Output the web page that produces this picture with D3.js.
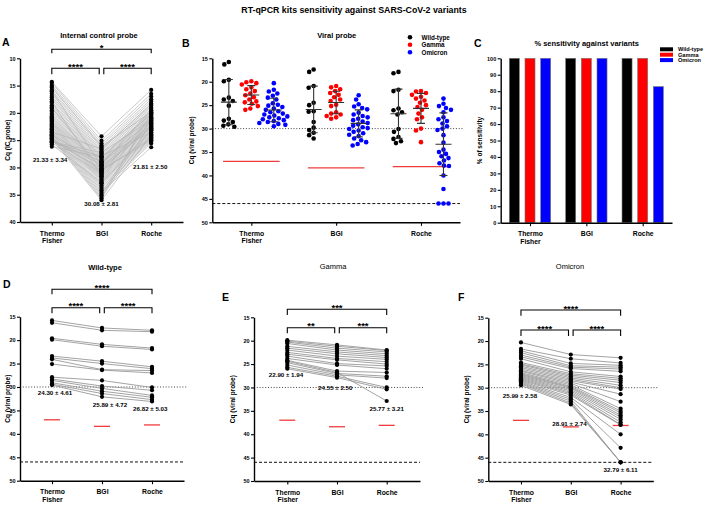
<!DOCTYPE html>
<html>
<head>
<meta charset="utf-8">
<script src="https://cdn.jsdelivr.net/npm/d3@7"></script>
<style>
    body { margin: 0; background: #fff; }
</style>
</head>
<body>
<script>
const kits = ['Thermo Fisher', 'BGI', 'Roche']
const variants = ['Wild-type', 'Gamma', 'Omicron']
const variantColours = ['#000000', '#ff0000', '#0000ff']

// internal control probe, all 60 samples (TF, BGI, Roche paired by index)
const icThermo = [14.3, 14.5, 14.9, 15.4, 15.8, 16.1, 16.5, 16.9, 17.2, 17.5,
    17.9, 18.2, 18.6, 18.9, 19.2, 19.5, 19.8, 20.1, 20.4, 20.6,
    20.8, 21.0, 21.2, 21.4, 21.6, 21.8, 22.0, 22.1, 22.3, 22.5,
    22.6, 22.8, 23.0, 23.1, 23.3, 23.4, 23.6, 23.7, 23.9, 24.0,
    24.2, 24.3, 24.5, 24.6, 24.8, 24.9, 25.1, 25.2, 25.4, 25.5,
    23.5, 24.1, 24.7, 25.3, 25.8, 26.2, 19.0, 18.0, 16.0, 15.2]
const icBGI = [24.3, 25.1, 25.6, 26.0, 26.4, 26.8, 27.1, 27.4, 27.7, 28.0,
    28.2, 28.4, 28.6, 28.8, 29.0, 29.2, 29.4, 29.6, 29.8, 30.0,
    30.1, 30.3, 30.5, 30.7, 30.9, 31.1, 31.3, 31.5, 31.7, 31.9,
    32.1, 32.3, 32.5, 32.7, 33.0, 33.3, 33.6, 33.9, 34.2, 34.5,
    34.8, 35.1, 35.4, 35.7, 36.0, 29.5, 30.2, 28.9, 27.9, 31.0,
    26.6, 29.1, 30.6, 27.3, 32.9, 28.1, 30.4, 31.6, 29.7, 26.2]
const icRoche = [15.8, 16.5, 17.0, 17.5, 17.9, 18.3, 18.7, 19.0, 19.3, 19.6,
    19.9, 20.1, 20.3, 20.5, 20.7, 20.9, 21.1, 21.3, 21.5, 21.7,
    21.9, 22.1, 22.3, 22.5, 22.7, 22.9, 23.1, 23.3, 23.5, 23.7,
    23.9, 24.1, 24.3, 24.5, 24.7, 24.9, 25.1, 25.3, 25.6, 26.3,
    21.0, 22.0, 23.0, 20.0, 24.0, 19.5, 22.6, 21.4, 23.6, 20.8,
    18.5, 22.4, 24.6, 21.2, 23.2, 20.2, 25.0, 21.6, 22.8, 19.8]
const icLabels = ['21.33 ± 3.34', '30.08 ± 2.81', '21.81 ± 2.50']
const icStars = ['****', '****', '*']   // TF-BGI, BGI-Roche, TF-Roche

// viral probe per variant
const wtThermo = [15.8, 16.3, 19.6, 19.9, 23.4, 23.8, 24.1, 25.1, 27.9, 28.3, 28.6, 29.1, 29.4, 29.6]
const wtBGI = [17.4, 17.9, 20.9, 21.3, 24.5, 25.0, 26.3, 26.4, 28.6, 29.8, 30.3, 30.9, 31.4, 32.1]
const wtRoche = [17.9, 18.2, 21.7, 22.0, 25.7, 26.1, 26.5, 27.0, 30.1, 30.7, 31.8, 32.2, 32.7, 33.1]
const wtLabels = ['24.30 ± 4.61', '25.89 ± 4.72', '26.82 ± 5.03']
const wtStars = ['****', '****', '****']

const gammaThermo = [19.9, 20.1, 20.3, 20.6, 21.2, 21.6, 22.0, 22.5, 22.9, 23.3, 23.8, 24.2, 24.4, 24.7, 25.2, 25.7, 26.0]
const gammaBGI = [20.9, 21.2, 21.6, 22.0, 22.4, 22.8, 23.3, 23.8, 24.1, 24.9, 25.2, 26.5, 26.8, 27.0, 27.3, 27.6, 27.9]
const gammaRoche = [22.0, 22.1, 22.4, 22.8, 23.2, 23.6, 24.0, 24.5, 25.0, 25.4, 26.0, 26.8, 32.9, 27.6, 28.0, 30.0, 30.4]
const gammaLabels = ['22.90 ± 1.94', '24.55 ± 2.50', '25.77 ± 3.21']
const gammaStars = ['**', '***', '***']

const omicronThermo = [20.3, 21.7, 22.1, 22.5, 23.0, 23.4, 23.8, 24.6, 24.9, 25.1, 25.4, 25.7, 26.0, 26.3, 26.5,
    26.8, 27.0, 27.2, 27.4, 27.6, 27.8, 28.0, 28.2, 28.4, 28.6, 28.8, 29.0, 29.2, 29.5]
const omicronBGI = [22.9, 23.8, 24.8, 25.3, 25.6, 25.9, 26.6, 27.0, 27.3, 27.6, 27.9, 28.2, 28.5, 28.8, 29.1,
    29.4, 29.7, 29.9, 30.1, 30.4, 30.7, 31.0, 31.3, 31.6, 32.1, 32.5, 32.9, 33.3, 33.6]
const omicronRoche = [23.6, 24.7, 25.2, 25.6, 26.0, 26.5, 27.6, 28.0, 28.4, 28.9, 29.5, 30.0, 30.3, 31.4, 33.0,
    34.5, 35.0, 35.4, 35.9, 36.3, 36.8, 37.4, 37.9, 38.0, 40.0, 42.9, 46.0, 46.0, 46.0]
const omicronLabels = ['25.99 ± 2.58', '28.91 ± 2.74', '32.79 ± 6.11']
const omicronStars = ['****', '****', '****']

const cutoffs = [37.0, 38.4, 38.1]
const positivityCq = 30
const undetectedCq = 46

const sensWild = [100, 100, 100]
const sensGamma = [100, 100, 100]
const sensOmicron = [100, 100, 82.76]

const icTicks = [10, 15, 20, 25, 30, 35, 40]
const cqTicks = [15, 20, 25, 30, 35, 40, 45, 50]
const sensTicks = [0, 10, 20, 30, 40, 50, 60, 70, 80, 90, 100]

const FONT = '"Liberation Sans", Arial, sans-serif'
const RED = '#f03c3c'

const svg = d3.select('body').append('svg')
    .attr('width', 708).attr('height', 505)
    .style('font-family', FONT)

function addText(g, x, y, str, size, weight = 'bold', anchor = 'middle'){
    return g.append('text')
        .attr('x', x).attr('y', y)
        .attr('font-size', size).attr('font-weight', weight)
        .attr('text-anchor', anchor)
        .text(str)
}

function drawAxes(g, x, y, ticks, yLabel, yLabelX){
    const yAxis = g.append('g')
        .attr('transform', `translate(${x.range()[0]},0)`)
        .call(d3.axisLeft(y).tickValues(ticks).tickSize(3).tickSizeOuter(0).tickPadding(1.5))
    const xAxis = g.append('g')
        .attr('transform', `translate(0,${y.range()[1]})`)
        .call(d3.axisBottom(x).tickSize(3.5).tickSizeOuter(0))

    ;[yAxis, xAxis].forEach(a => {
        a.attr('font-family', FONT)
        a.select('.domain').attr('stroke-width', 1.4)
        a.selectAll('.tick line').attr('stroke-width', 1.1)
    })
    yAxis.selectAll('.tick text').attr('font-size', 5.5).attr('font-weight', 'bold')

    xAxis.selectAll('.tick text').remove()
    xAxis.selectAll('.tick').each(function(d){
        const t = d3.select(this).append('text')
            .attr('fill', '#000').attr('y', 13.5)
            .attr('font-size', 6.8).attr('font-weight', 'bold')
        d.split(' ').forEach((w, i) => {
            t.append('tspan').attr('x', 0).attr('dy', i === 0 ? 0 : 7.5).text(w)
        })
    })

    const mid = (y.range()[0] + y.range()[1]) / 2
    addText(g, 0, 0, yLabel, 6.5)
        .attr('transform', `translate(${yLabelX},${mid}) rotate(-90)`)
        .attr('dy', '0.35em')
}

function drawBracket(g, x1, x2, yLine, drop, stars){
    g.append('path')
        .attr('d', `M${x1},${yLine + drop}V${yLine}H${x2}V${yLine + drop}`)
        .attr('fill', 'none').attr('stroke', '#000').attr('stroke-width', 1.1)
    addText(g, (x1 + x2) / 2, yLine + 1.5, stars, 9.5)
}

function drawRefLines(g, x, y, cutoffHalf, xPos){
    const x0 = x.range()[0], x1 = x.range()[1]
    g.append('line')
        .attr('x1', x0).attr('x2', x1 + 4)
        .attr('y1', y(positivityCq)).attr('y2', y(positivityCq))
        .attr('stroke', '#444').attr('stroke-width', 1).attr('stroke-dasharray', '1,1.8')
    g.append('line')
        .attr('x1', x0).attr('x2', x1)
        .attr('y1', y(undetectedCq)).attr('y2', y(undetectedCq))
        .attr('stroke', '#111').attr('stroke-width', 1).attr('stroke-dasharray', '3,2')
    g.selectAll(null).data(kits).join('line')
        .attr('x1', (d, i) => xPos(d) - cutoffHalf).attr('x2', (d, i) => xPos(d) + cutoffHalf)
        .attr('y1', (d, i) => y(cutoffs[i])).attr('y2', (d, i) => y(cutoffs[i]))
        .attr('stroke', RED).attr('stroke-width', 1.3)
}

function pairedPanel(cfg){
    const g = svg.append('g')
    const x = d3.scalePoint().domain(kits).range([cfg.left, cfg.right]).padding(cfg.padding)
    const y = d3.scaleLinear().domain(cfg.domain).range([cfg.top, cfg.bottom])

    if(cfg.refs) drawRefLines(g, x, y, 8, x)

    const samples = d3.range(cfg.series[0].length)
        .map(i => cfg.series.map((s, j) => [x(kits[j]), y(s[i])]))
    g.selectAll(null).data(samples).join('path')
        .attr('d', d3.line())
        .attr('fill', 'none').attr('stroke', cfg.lineColour).attr('stroke-width', cfg.lineWidth)
    cfg.series.forEach((s, j) => {
        g.selectAll(null).data(s).join('circle')
            .attr('cx', x(kits[j])).attr('cy', d => y(d)).attr('r', 2.1).attr('fill', '#000')
    })

    const bx = x(kits[1])
    const topY = cfg.top + cfg.bracketTop
    const lowY = cfg.top + cfg.bracketLow
    drawBracket(g, x(kits[0]), x(kits[2]), topY, cfg.dropTop, cfg.stars[2])
    drawBracket(g, x(kits[0]), bx - 2.3, lowY, cfg.dropLow, cfg.stars[0])
    drawBracket(g, bx + 2.3, x(kits[2]), lowY, cfg.dropLow, cfg.stars[1])

    cfg.labels.forEach((lab, j) => {
        addText(g, x(kits[j]) + cfg.labelPos[j][0], y(cfg.labelPos[j][1]), lab, 6.2)
            .attr('dy', '0.35em')
    })

    drawAxes(g, x, y, cfg.ticks, cfg.yLabel, cfg.yLabelX)
    addText(g, cfg.titleX, cfg.titleY, cfg.title, 7.5, cfg.titleWeight)
    addText(g, cfg.letterX, cfg.letterY, cfg.letter, 10.5, 'bold', 'start')
}

function beeswarm(values, y, r){
    const placed = []
    values.map(v => y(v)).sort((a, b) => a - b).forEach(py => {
        let k = 0, off = 0
        while(true){
            off = (k % 2 === 0 ? 1 : -1) * Math.ceil(k / 2) * 0.5
            const hit = placed.some(p => Math.hypot(p[0] - off, p[1] - py) < 2 * r + 0.3)
            if(!hit) break
            k++
        }
        placed.push([off, py])
    })
    return placed
}

function viralPanel(){
    const g = svg.append('g')
    const x = d3.scalePoint().domain(kits).range([212.3, 460]).padding(0.46)
    const v = d3.scalePoint().domain(variants).range([-22.5, 22.5])
    const y = d3.scaleLinear().domain([15, 50]).range([58.3, 222.3])

    drawRefLines(g, x, y, 28.3, x)

    const groups = [
        [wtThermo, gammaThermo, omicronThermo],
        [wtBGI, gammaBGI, omicronBGI],
        [wtRoche, gammaRoche, omicronRoche]
    ]
    groups.forEach((kitGroup, i) => {
        kitGroup.forEach((vals, j) => {
            const cx = x(kits[i]) + v(variants[j])
            g.selectAll(null).data(beeswarm(vals, y, 2.3)).join('circle')
                .attr('cx', d => cx + d[0]).attr('cy', d => d[1]).attr('r', 2.3)
                .attr('fill', variantColours[j])
            const m = d3.mean(vals), sd = d3.deviation(vals)
            g.append('path')
                .attr('d', `M${cx},${y(m - sd)}V${y(m + sd)}` +
                    `M${cx - 4},${y(m - sd)}H${cx + 4}M${cx - 4},${y(m + sd)}H${cx + 4}` +
                    `M${cx - 8},${y(m)}H${cx + 8}`)
                .attr('fill', 'none').attr('stroke', '#333').attr('stroke-width', 1.1)
        })
    })

    drawAxes(g, x, y, cqTicks, 'Cq (viral probe)', 192)
    addText(g, 336.7, 37.5, 'Viral probe', 7.5)
    addText(g, 182, 47, 'B', 10.5, 'bold', 'start')

    const legend = g.selectAll(null).data(variants).join('g')
        .attr('transform', (d, i) => `translate(410,${37.3 + i * 7.5})`)
    legend.append('circle').attr('r', 2.3).attr('fill', (d, i) => variantColours[i])
    legend.append('text').attr('x', 11.5).attr('dy', '0.35em')
        .attr('font-size', 6.3).attr('font-weight', 'bold').text(d => d)
}

function sensitivityPanel(){
    const g = svg.append('g')
    const x = d3.scalePoint().domain(kits).range([500.7, 672]).padding(0.52)
    const v = d3.scaleBand().domain(variants).range([-23.5, 23.5]).paddingInner(0.36).paddingOuter(0.18)
    const y = d3.scaleLinear().domain([100, 0]).range([58.3, 222.7])
    const sens = [sensWild, sensGamma, sensOmicron]

    sens.forEach((vals, j) => {
        g.selectAll(null).data(vals).join('rect')
            .attr('x', (d, i) => x(kits[i]) + v(variants[j]))
            .attr('width', v.bandwidth())
            .attr('y', d => y(d)).attr('height', d => y(0) - y(d))
            .attr('fill', variantColours[j]).attr('stroke', '#777').attr('stroke-width', 0.6)
    })

    drawAxes(g, x, y, sensTicks, '% of sensitivity', 480)
    addText(g, 586.7, 46, '% sensitivity against variants', 7.5)
    addText(g, 474, 47, 'C', 10.5, 'bold', 'start')

    const legend = g.selectAll(null).data(variants).join('g')
        .attr('transform', (d, i) => `translate(660,${49.3 + i * 5.4})`)
    legend.append('rect').attr('y', -2).attr('width', 13).attr('height', 4)
        .attr('fill', (d, i) => variantColours[i])
    legend.append('text').attr('x', 18).attr('dy', '0.35em')
        .attr('font-size', 5.6).attr('font-weight', 'bold').text(d => d)
}

addText(svg, 354, 13, 'RT-qPCR kits sensitivity against SARS-CoV-2 variants', 8.8)

pairedPanel({
    series: [icThermo, icBGI, icRoche], labels: icLabels, stars: icStars,
    left: 20, right: 183, top: 58.3, bottom: 222, padding: 0.64, domain: [10, 40], ticks: icTicks,
    yLabel: 'Cq (IC probe)', yLabelX: 8, refs: false, lineColour: '#b4b4b4', lineWidth: 0.7,
    bracketTop: -9, bracketLow: 10, dropTop: 4, dropLow: 6,
    labelPos: [[-1.7, 28.6], [0, 36.7], [-1, 29.9]],
    title: 'Internal control probe', titleX: 99, titleY: 37.5, titleWeight: 'bold',
    letter: 'A', letterX: 2, letterY: 45.5
})
viralPanel()
sensitivityPanel()
pairedPanel({
    series: [wtThermo, wtBGI, wtRoche], labels: wtLabels, stars: wtStars,
    left: 20, right: 184, top: 316.7, bottom: 480.7, padding: 0.64, domain: [15, 50], ticks: cqTicks,
    yLabel: 'Cq (viral probe)', yLabelX: 8, refs: true, lineColour: '#999', lineWidth: 0.9,
    bracketTop: -27.4, bracketLow: -9, dropTop: 5, dropLow: 5.6,
    labelPos: [[3, 31.2], [8, 33.8], [-1.7, 34.7]],
    title: 'Wild-type', titleX: 105, titleY: 269.5, titleWeight: 'bold',
    letter: 'D', letterX: 3, letterY: 288
})
pairedPanel({
    series: [gammaThermo, gammaBGI, gammaRoche], labels: gammaLabels, stars: gammaStars,
    left: 254, right: 420, top: 317.3, bottom: 481, padding: 0.67, domain: [15, 50], ticks: cqTicks,
    yLabel: 'Cq (viral probe)', yLabelX: 233, refs: true, lineColour: '#999', lineWidth: 0.9,
    bracketTop: -8, bracketLow: 10.4, dropTop: 5.7, dropLow: 5.6,
    labelPos: [[-1.3, 27.3], [-1.7, 30.0], [0, 34.5]],
    title: 'Gamma', titleX: 333, titleY: 269, titleWeight: 'normal',
    letter: 'E', letterX: 222, letterY: 300.5
})
pairedPanel({
    series: [omicronThermo, omicronBGI, omicronRoche], labels: omicronLabels, stars: omicronStars,
    left: 488.3, right: 653.3, top: 317.7, bottom: 481, padding: 0.656, domain: [15, 50], ticks: cqTicks,
    yLabel: 'Cq (viral probe)', yLabelX: 467, refs: true, lineColour: '#999', lineWidth: 0.9,
    bracketTop: -7.7, bracketLow: 12.3, dropTop: 5.7, dropLow: 6,
    labelPos: [[-1, 31.7], [-1.3, 37.8], [0, 47.6]],
    title: 'Omicron', titleX: 570, titleY: 269, titleWeight: 'normal',
    letter: 'F', letterX: 458, letterY: 300.5
})
</script>
</body>
</html>
